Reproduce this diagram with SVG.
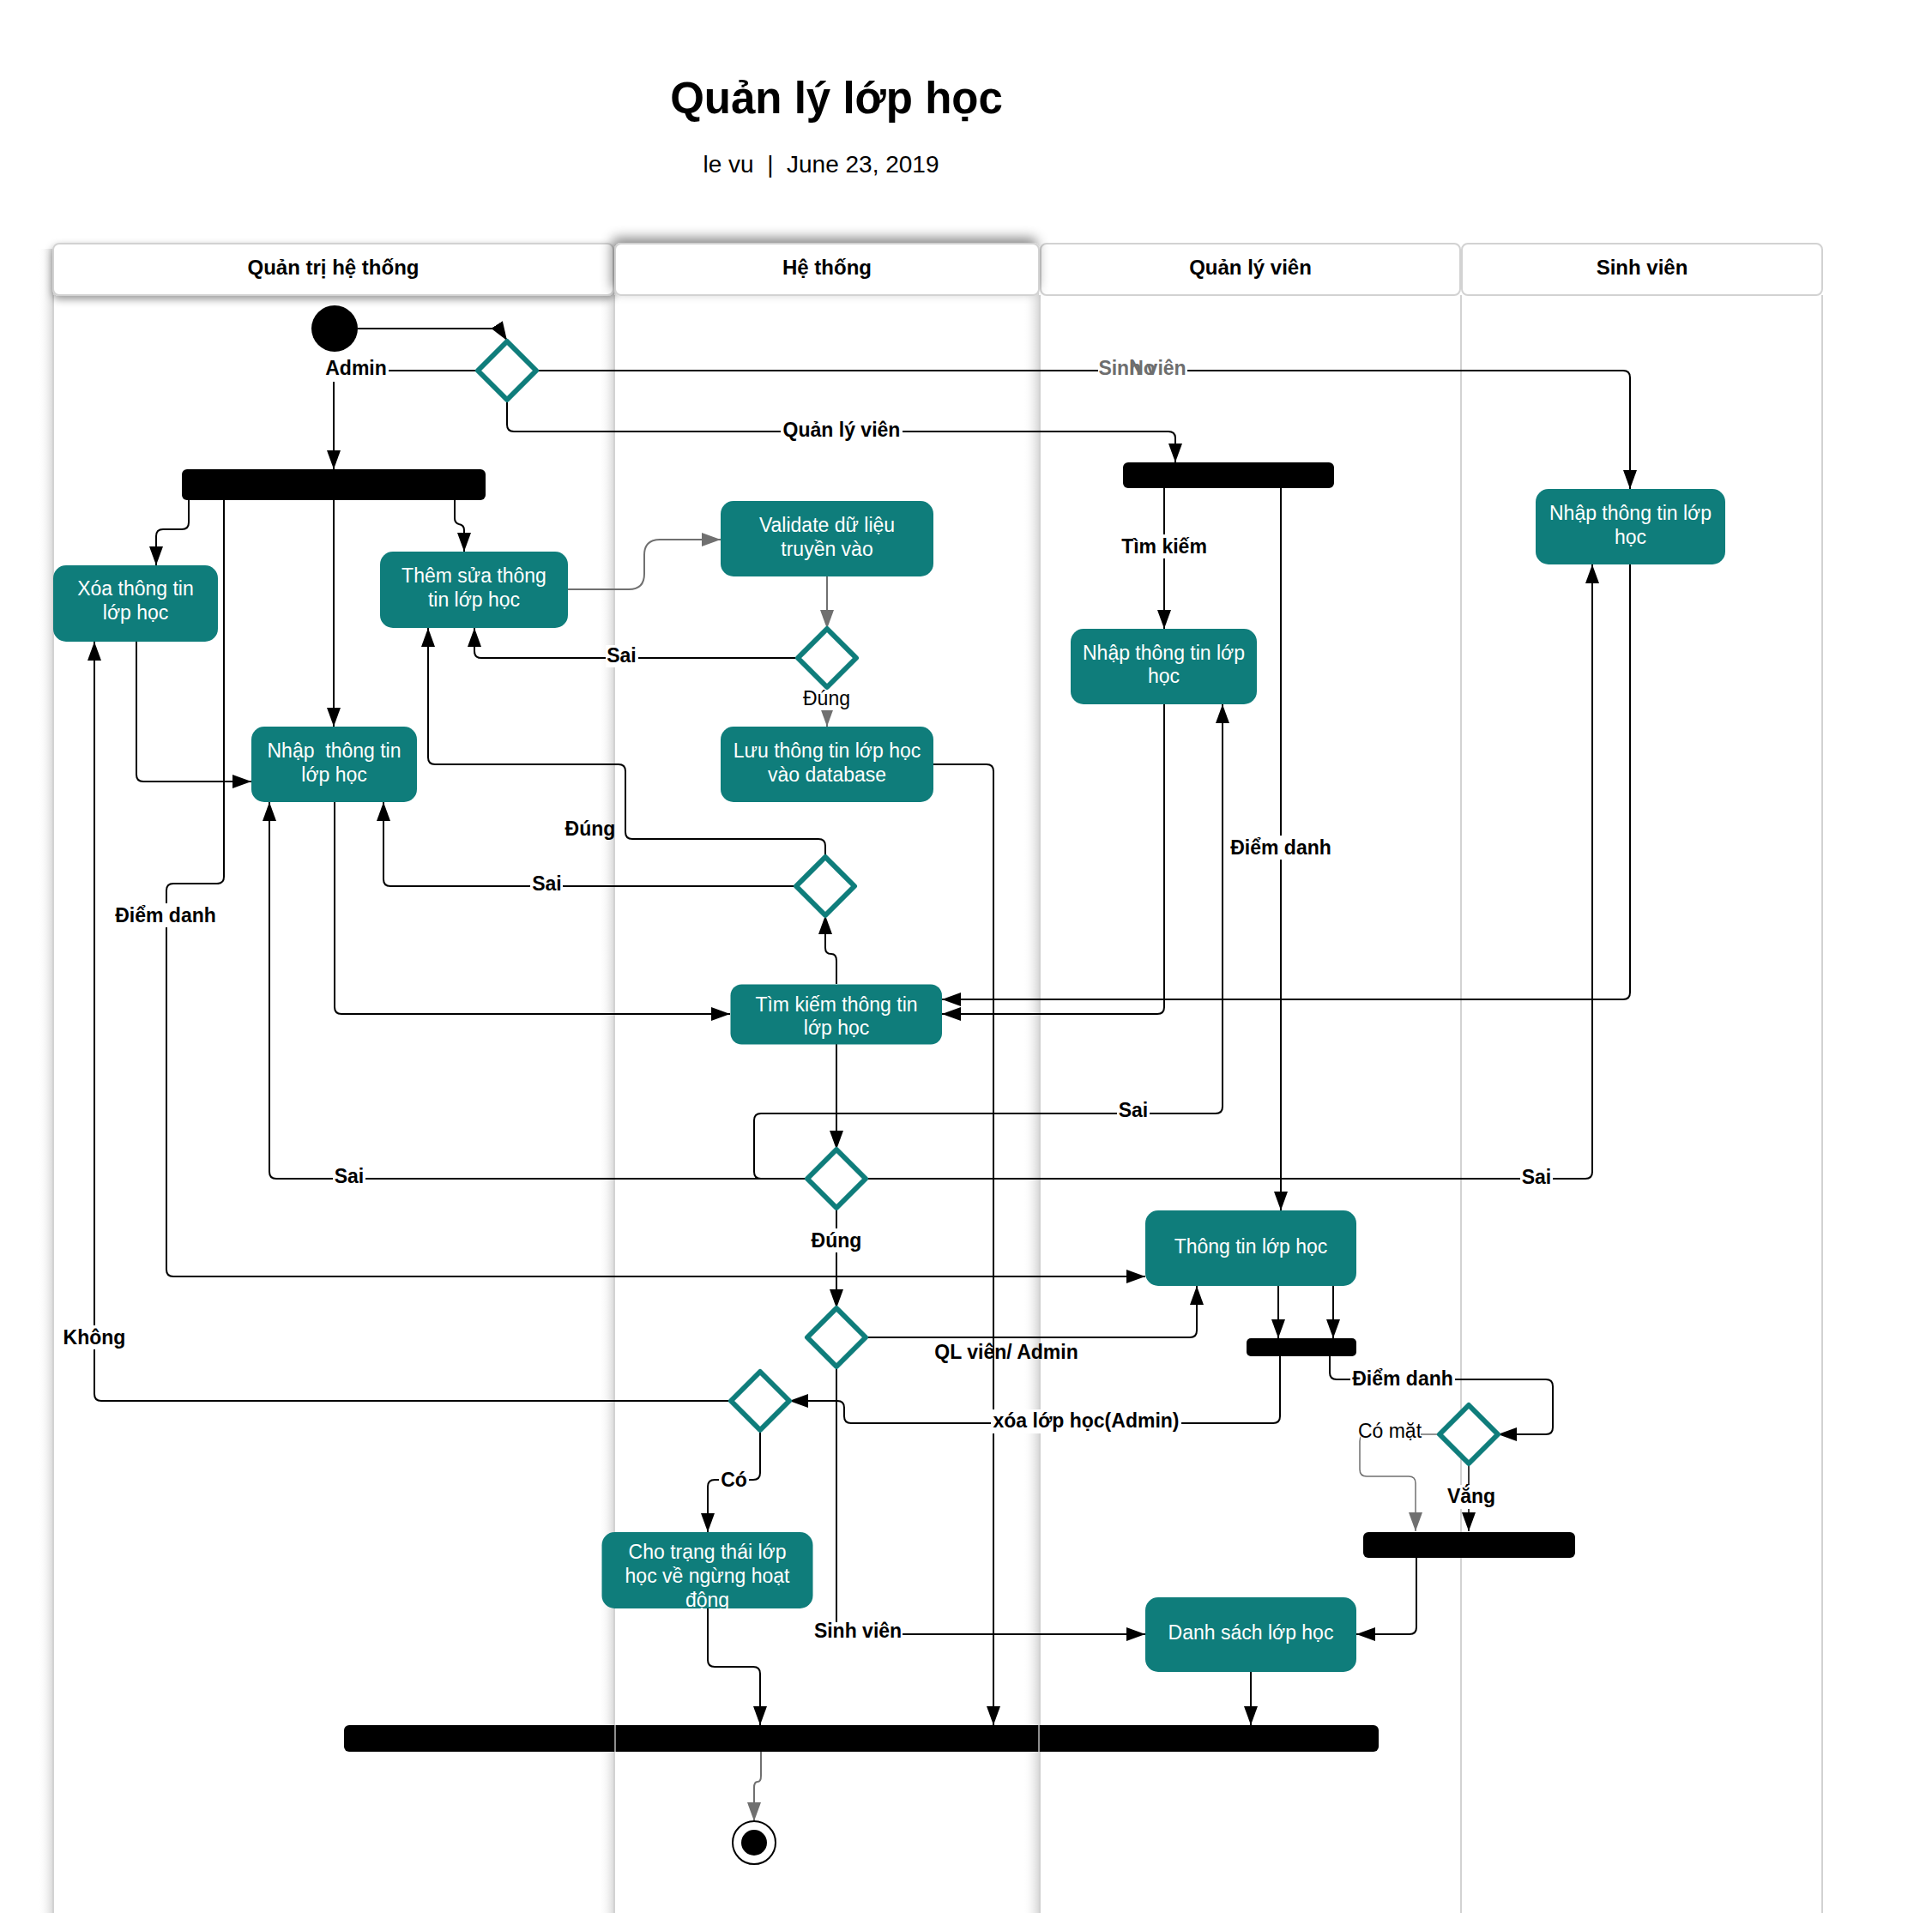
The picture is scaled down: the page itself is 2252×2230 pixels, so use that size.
<svg xmlns="http://www.w3.org/2000/svg" width="2252" height="2230" viewBox="0 0 2252 2230">
<defs>
<style>
.hd{fill:#fff;stroke:#d2d2d2;stroke-width:2}
.ht{font:bold 24px 'Liberation Sans',Arial,sans-serif;text-anchor:middle;fill:#000}
.lane{stroke:#d2d2d2;stroke-width:2}
.act{fill:#0f7d7b}
.at{font:23px 'Liberation Sans',Arial,sans-serif;fill:#fff;text-anchor:middle}
.bar{fill:#000}
.dia{fill:#fff;stroke:#0f7d7b;stroke-width:6;stroke-linejoin:round}
.c{fill:none;stroke:#000;stroke-width:2;marker-end:url(#ah)}
.ct{fill:none;stroke:#000;stroke-width:1.5;marker-end:url(#ah)}
.cg{fill:none;stroke:#707070;stroke-width:2;marker-end:url(#ahg)}
.lb{fill:#fff}
.el{font:bold 23px 'Liberation Sans',Arial,sans-serif;text-anchor:middle;fill:#000}
.eln{font:23px 'Liberation Sans',Arial,sans-serif;text-anchor:middle;fill:#000}
.elg{font:bold 23px 'Liberation Sans',Arial,sans-serif;text-anchor:middle;fill:#6e6e6e}
</style>
<marker id="ah" viewBox="0 0 22 16" refX="22" refY="8" markerWidth="22" markerHeight="16" markerUnits="userSpaceOnUse" orient="auto"><path d="M0,0 L22,8 L0,16 Z" fill="#000"/></marker>
<marker id="ahg" viewBox="0 0 22 16" refX="22" refY="8" markerWidth="22" markerHeight="16" markerUnits="userSpaceOnUse" orient="auto"><path d="M0,0 L22,8 L0,16 Z" fill="#707070"/></marker>
<linearGradient id="band" x1="0" y1="0" x2="1" y2="0"><stop offset="0" stop-color="#fff" stop-opacity="0"/><stop offset="1" stop-color="#d8d8d8"/></linearGradient>
<filter id="sh1" x="-5%" y="-40%" width="110%" height="200%"><feDropShadow dx="0" dy="4" stdDeviation="5" flood-color="#000" flood-opacity="0.4"/></filter>
<filter id="sh2" x="-10%" y="-60%" width="120%" height="200%"><feDropShadow dx="-3" dy="-6" stdDeviation="7" flood-color="#000" flood-opacity="0.45"/></filter>
</defs>
<rect width="2252" height="2230" fill="#fff"/>

<g id="title">
<text x="975" y="132" style="font:bold 51px 'Liberation Sans',Arial,sans-serif;text-anchor:middle">Quản lý lớp học</text>
<text x="957" y="201" style="font:28px 'Liberation Sans',Arial,sans-serif;text-anchor:middle">le vu &#160;| &#160;June 23, 2019</text>
</g>

<g id="lanes">
<rect x="44" y="290" width="18" height="1940" fill="url(#band)"/>
<rect x="698" y="290" width="18" height="1940" fill="url(#band)"/>
<rect x="1192" y="290" width="19" height="1940" fill="url(#band)"/>
<line class="lane" x1="62" y1="344" x2="62" y2="2230"/>
<line class="lane" x1="716" y1="344" x2="716" y2="2230"/>
<line class="lane" x1="1212" y1="344" x2="1212" y2="2230"/>
<line class="lane" x1="1703" y1="344" x2="1703" y2="2230"/>
<line class="lane" x1="2124" y1="344" x2="2124" y2="2230"/>
<g id="lane3-header"><rect class="hd" x="1213" y="284" width="489" height="60" rx="7"/><text class="ht" x="1457.5" y="320">Quản lý viên</text></g>
<g id="lane4-header"><rect class="hd" x="1704" y="284" width="420" height="60" rx="7"/><text class="ht" x="1914" y="320">Sinh viên</text></g>
<g id="lane1-header"><rect class="hd" x="62" y="284" width="653" height="60" rx="7" filter="url(#sh1)"/><text class="ht" x="388.5" y="320">Quản trị hệ thống</text></g>
<g id="lane2-header"><rect class="hd" x="717" y="284" width="494" height="60" rx="7" filter="url(#sh2)"/><text class="ht" x="964" y="320">Hệ thống</text></g>
</g>

<g id="connectors">
<path class="c" d="M417,383 H582 L591,397"/>
<path class="c" d="M557,432 H397 Q389,432 389,440 V547"/>
<path class="c" d="M625,432 H1892 Q1900,432 1900,440 V570"/>
<path class="c" d="M591,466 V495 Q591,503 599,503 H1362 Q1370,503 1370,511 V539"/>
<path class="c" d="M220,583 V609 Q220,617 212,617 H190 Q182,617 182,625 V659"/>
<path class="c" d="M389,583 V847"/>
<path class="c" d="M530,583 V604 Q530,610 535,611 Q541,612 541,618 V643"/>
<path class="c" d="M261,583 V1022 Q261,1030 253,1030 H202 Q194,1030 194,1038 V1480 Q194,1488 202,1488 H1335"/>
<path class="c" d="M159,748 V903 Q159,911 167,911 H293"/>
<path class="cg" d="M662,687 H733 Q751,687 751,669 V647 Q751,629 769,629 H840"/>
<path class="cg" d="M964,672 V733"/>
<path class="c" d="M930,767 H561 Q553,767 553,759 V732"/>
<path class="cg" d="M964,801 V847"/>
<path class="c" d="M1088,891 H1150 Q1158,891 1158,899 V2011"/>
<path class="c" d="M962,999 V986 Q962,978 954,978 H737 Q729,978 729,970 V899 Q729,891 721,891 H507 Q499,891 499,883 V732"/>
<path class="c" d="M928,1033 H455 Q447,1033 447,1025 V935"/>
<path class="c" d="M390,935 V1174 Q390,1182 398,1182 H851"/>
<path class="c" d="M975,1147 V1120 Q975,1112 969,1112 Q962,1112 962,1105 V1067"/>
<path class="c" d="M1357,821 V1174 Q1357,1182 1349,1182 H1098"/>
<path class="c" d="M1900,658 V1157 Q1900,1165 1892,1165 H1098"/>
<path class="c" d="M975,1217 V1340"/>
<path class="c" d="M941,1374 H887 Q879,1374 879,1366 V1306 Q879,1298 887,1298 H1417 Q1425,1298 1425,1290 V821"/>
<path class="c" d="M941,1374 H322 Q314,1374 314,1366 V935"/>
<path class="c" d="M1009,1374 H1848 Q1856,1374 1856,1366 V658"/>
<path class="c" d="M1357,569 V733"/>
<path class="c" d="M1493,569 V1411"/>
<path class="c" d="M975,1408 V1525"/>
<path class="c" d="M1009,1559 H1387 Q1395,1559 1395,1551 V1499"/>
<path class="c" d="M975,1593 V1897 Q975,1905 983,1905 H1335"/>
<path class="c" d="M1490,1499 V1560"/>
<path class="c" d="M1554,1499 V1560"/>
<path class="c" d="M1492,1581 V1651 Q1492,1659 1484,1659 H992 Q984,1659 984,1651 V1641 Q984,1633 976,1633 H920"/>
<path class="c" d="M1550,1581 V1600 Q1550,1608 1558,1608 H1802 Q1810,1608 1810,1616 V1664 Q1810,1672 1802,1672 H1746"/>
<path class="c" d="M852,1633 H118 Q110,1633 110,1625 V748"/>
<path class="c" d="M886,1667 V1717 Q886,1725 878,1725 H833 Q825,1725 825,1733 V1786"/>
<path class="c" d="M825,1875 V1935 Q825,1943 833,1943 H878 Q886,1943 886,1951 V2011"/>
<path class="c" d="M1458,1949 V2011"/>
<path class="cg" style="stroke-width:1.5" d="M1678,1672 H1593 Q1585,1672 1585,1680 V1713 Q1585,1721 1593,1721 H1642 Q1650,1721 1650,1729 V1785"/>
<path class="ct" d="M1712,1706 V1785"/>
<path class="c" d="M1651,1816 V1897 Q1651,1905 1643,1905 H1581"/>
<path class="cg" d="M887,2042 V2070 Q887,2077 883,2077 Q879,2077 879,2084 V2123"/>
</g>

<g id="labels">
<rect class="lb" x="379" y="417" width="74" height="28"/><text class="el" x="415" y="437">Admin</text>
<rect class="lb" x="1280" y="418" width="104" height="26"/><text class="elg" x="1331.5" y="437">Sinh viên</text><text class="elg" x="1331.5" y="437">No</text>
<rect class="lb" x="910" y="488" width="142" height="28"/><text class="el" x="981" y="509">Quản lý viên</text>
<rect class="lb" x="706" y="752" width="38" height="26"/><text class="el" x="724.5" y="772">Sai</text>
<rect class="lb" x="934" y="803" width="60" height="25"/><text class="eln" x="963.5" y="822">Đúng</text>
<rect class="lb" x="1305" y="623" width="104" height="28"/><text class="el" x="1357" y="645">Tìm kiếm</text>
<rect class="lb" x="132" y="1053" width="122" height="28"/><text class="el" x="193" y="1075">Điểm danh</text>
<text class="el" x="688" y="974">Đúng</text>
<rect class="lb" x="618" y="1018" width="38" height="26"/><text class="el" x="637.5" y="1038">Sai</text>
<rect class="lb" x="1432" y="974" width="122" height="28"/><text class="el" x="1493" y="996">Điểm danh</text>
<rect class="lb" x="1302" y="1282" width="38" height="26"/><text class="el" x="1321" y="1302">Sai</text>
<rect class="lb" x="388" y="1359" width="38" height="26"/><text class="el" x="407" y="1379">Sai</text>
<rect class="lb" x="1772" y="1360" width="38" height="26"/><text class="el" x="1791" y="1380">Sai</text>
<rect class="lb" x="944" y="1432" width="62" height="28"/><text class="el" x="975" y="1454">Đúng</text>
<text class="el" x="1173" y="1584">QL viên/ Admin</text>
<rect class="lb" x="72" y="1545" width="76" height="28"/><text class="el" x="110" y="1567">Không</text>
<rect class="lb" x="1155" y="1643" width="222" height="28"/><text class="el" x="1266" y="1664">xóa lớp học(Admin)</text>
<rect class="lb" x="1574" y="1593" width="122" height="28"/><text class="el" x="1635" y="1615">Điểm danh</text>
<rect class="lb" x="1586" y="1655" width="70" height="26"/><text class="eln" x="1620" y="1676">Có mặt</text>
<rect class="lb" x="1685" y="1731" width="60" height="28"/><text class="el" x="1715" y="1752">Vắng</text>
<rect class="lb" x="838" y="1712" width="35" height="26"/><text class="el" x="855.5" y="1733">Có</text>
<rect class="lb" x="948" y="1891" width="104" height="28"/><text class="el" x="1000" y="1909">Sinh viên</text>
</g>

<g id="start"><circle cx="390" cy="383" r="27" fill="#000"/></g>

<g id="fork-admin"><rect class="bar" x="212" y="547" width="354" height="36" rx="6"/></g>
<g id="fork-qlv"><rect class="bar" x="1309" y="539" width="246" height="30" rx="6"/></g>
<g id="fork-info"><rect class="bar" x="1453" y="1560" width="128" height="21" rx="5"/></g>
<g id="join-attendance"><rect class="bar" x="1589" y="1786" width="247" height="30" rx="6"/></g>
<g id="join-final"><rect class="bar" x="401" y="2011" width="1206" height="31" rx="6"/>
<line x1="717" y1="2011" x2="717" y2="2042" stroke="#bdbdbd" stroke-width="1.5"/>
<line x1="1211" y1="2011" x2="1211" y2="2042" stroke="#bdbdbd" stroke-width="1.5"/></g>

<g id="d-role"><path class="dia" d="M591,398 L625,432 L591,466 L557,432 Z"/></g>
<g id="d-validate"><path class="dia" d="M964,733 L998,767 L964,801 L930,767 Z"/></g>
<g id="d-search1"><path class="dia" d="M962,999 L996,1033 L962,1067 L928,1033 Z"/></g>
<g id="d-search2"><path class="dia" d="M975,1340 L1009,1374 L975,1408 L941,1374 Z"/></g>
<g id="d-role2"><path class="dia" d="M975,1525 L1009,1559 L975,1593 L941,1559 Z"/></g>
<g id="d-delete"><path class="dia" d="M886,1599 L920,1633 L886,1667 L852,1633 Z"/></g>
<g id="d-attend"><path class="dia" d="M1712,1638 L1746,1672 L1712,1706 L1678,1672 Z"/></g>

<g id="n-xoa"><rect class="act" x="62" y="659" width="192" height="89" rx="15"/><text class="at" x="158"><tspan x="158" y="694">Xóa thông tin</tspan><tspan x="158" y="722">lớp học</tspan></text></g>
<g id="n-themsua"><rect class="act" x="443" y="643" width="219" height="89" rx="15"/><text class="at"><tspan x="552.5" y="679">Thêm sửa thông</tspan><tspan x="552.5" y="707">tin lớp học</tspan></text></g>
<g id="n-nhap-admin"><rect class="act" x="293" y="847" width="193" height="88" rx="15"/><text class="at"><tspan x="389.5" y="883">Nhập&#160; thông tin</tspan><tspan x="389.5" y="911">lớp học</tspan></text></g>
<g id="n-validate"><rect class="act" x="840" y="584" width="248" height="88" rx="15"/><text class="at"><tspan x="964" y="620">Validate dữ liệu</tspan><tspan x="964" y="648">truyền vào</tspan></text></g>
<g id="n-luu"><rect class="act" x="840" y="847" width="248" height="88" rx="15"/><text class="at"><tspan x="964" y="883">Lưu thông tin lớp học</tspan><tspan x="964" y="911">vào database</tspan></text></g>
<g id="n-timkiem"><rect class="act" x="851.5" y="1147.5" width="246.5" height="70" rx="13"/><text class="at"><tspan x="975" y="1179">Tìm kiếm thông tin</tspan><tspan x="975" y="1206">lớp học</tspan></text></g>
<g id="n-nhap-qlv"><rect class="act" x="1248" y="733" width="217" height="88" rx="15"/><text class="at"><tspan x="1356.5" y="769">Nhập thông tin lớp</tspan><tspan x="1356.5" y="796">học</tspan></text></g>
<g id="n-nhap-sv"><rect class="act" x="1790" y="570" width="221" height="88" rx="15"/><text class="at"><tspan x="1900.5" y="606">Nhập thông tin lớp</tspan><tspan x="1900.5" y="634">học</tspan></text></g>
<g id="n-thongtin"><rect class="act" x="1335" y="1411" width="246" height="88" rx="15"/><text class="at" x="1458" y="1461">Thông tin lớp học</text></g>
<g id="n-danhsach"><rect class="act" x="1335" y="1862" width="246" height="87" rx="15"/><text class="at" x="1458" y="1911">Danh sách lớp học</text></g>
<g id="n-chotrangthai"><rect class="act" x="701.5" y="1786" width="246" height="89" rx="15"/><text class="at"><tspan x="824.5" y="1817">Cho trạng thái lớp</tspan><tspan x="824.5" y="1845">học về ngừng hoạt</tspan><tspan x="824.5" y="1873">động</tspan></text></g>

<g id="end"><circle cx="879" cy="2148" r="25" fill="#fff" stroke="#000" stroke-width="2"/><circle cx="879" cy="2148" r="15" fill="#000"/></g>
</svg>
